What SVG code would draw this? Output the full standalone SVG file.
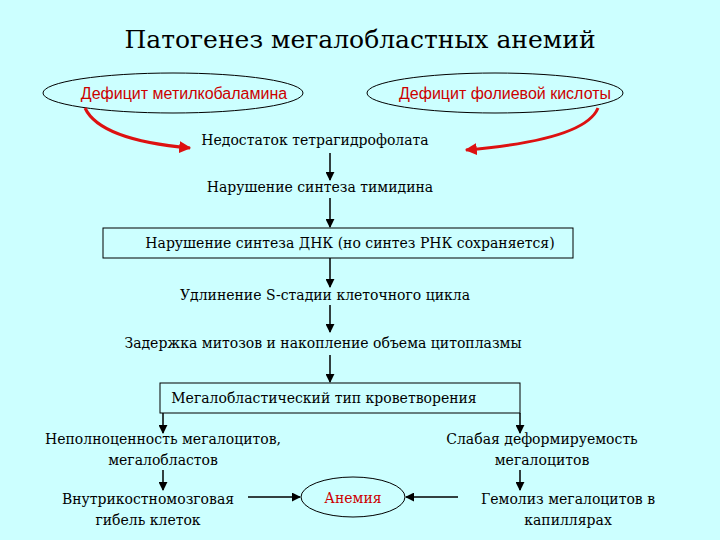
<svg xmlns="http://www.w3.org/2000/svg" width="720" height="540" viewBox="0 0 720 540">
<style>
.t{font-family:'DejaVu Serif','Liberation Serif',serif;font-size:14px;fill:#000;text-anchor:middle}
.r{font-family:'Liberation Sans',Arial,sans-serif;font-size:16px;fill:#cc0000;text-anchor:middle}
.ln{stroke:#000;stroke-width:1.5;fill:none}
.red{stroke:#dd1111;stroke-width:3;fill:none}
.el{fill:none;stroke:#000;stroke-width:1}
</style>
<defs>
<marker id="a" viewBox="0 0 10 10" refX="9" refY="5" markerWidth="6" markerHeight="6" orient="auto"><path d="M0,0L10,5L0,10z" fill="#000"/></marker>
<marker id="ar" viewBox="0 0 10 10" refX="9" refY="5" markerWidth="4" markerHeight="4" orient="auto"><path d="M0,0L10,5L0,10z" fill="#dd1111"/></marker>
</defs>
<rect width="720" height="540" fill="#ccffff"/>
<text x="360" y="48" class="t" style="font-size:25px">Патогенез мегалобластных анемий</text>
<g id="n1"><ellipse cx="173" cy="93" rx="130" ry="20" class="el"/><text x="184" y="99" class="r">Дефицит метилкобаламина</text></g>
<g id="n2"><ellipse cx="495" cy="93" rx="128" ry="20" class="el"/><text x="505" y="99" class="r">Дефицит фолиевой кислоты</text></g>
<g id="n3"><text x="315" y="145" class="t">Недостаток тетрагидрофолата</text></g>
<g id="n4"><text x="320" y="192" class="t">Нарушение синтеза тимидина</text></g>
<g id="n5"><rect x="103" y="228" width="470" height="30" fill="none" stroke="#000"/><text x="350" y="248" class="t">Нарушение синтеза ДНК (но синтез РНК сохраняется)</text></g>
<g id="n6"><text x="325" y="300" class="t">Удлинение S-стадии клеточного цикла</text></g>
<g id="n7"><text x="323" y="348" class="t">Задержка митозов и накопление объема цитоплазмы</text></g>
<g id="n8"><rect x="160" y="383" width="360" height="30" fill="none" stroke="#000"/><text x="324" y="403" class="t">Мегалобластический тип кроветворения</text></g>
<g id="n9"><text x="163" y="444" class="t">Неполноценность мегалоцитов,</text><text x="163" y="465" class="t">мегалобластов</text></g>
<g id="n10"><text x="542" y="444" class="t">Слабая деформируемость</text><text x="542" y="465" class="t">мегалоцитов</text></g>
<g id="n11"><text x="148" y="504" class="t">Внутрикостномозговая</text><text x="148" y="525" class="t">гибель клеток</text></g>
<g id="n12"><ellipse cx="353" cy="497" rx="52" ry="20" class="el"/><text x="353" y="503" class="t" style="fill:#cc0000">Анемия</text></g>
<g id="n13"><text x="568" y="504" class="t">Гемолиз мегалоцитов в</text><text x="568" y="525" class="t">капиллярах</text></g>
<g id="connectors">
<path d="M85,108 Q100,140 190,148" class="red" marker-end="url(#ar)"/>
<path d="M598,108 Q585,140 466,150" class="red" marker-end="url(#ar)"/>
<path d="M330,153V180" class="ln" marker-end="url(#a)"/>
<path d="M330,198V227" class="ln" marker-end="url(#a)"/>
<path d="M330,258V287" class="ln" marker-end="url(#a)"/>
<path d="M330,305V332" class="ln" marker-end="url(#a)"/>
<path d="M330,355V382" class="ln" marker-end="url(#a)"/>
<path d="M163,413V433" class="ln" marker-end="url(#a)"/>
<path d="M520,413V433" class="ln" marker-end="url(#a)"/>
<path d="M163,470V490" class="ln" marker-end="url(#a)"/>
<path d="M520,470V490" class="ln" marker-end="url(#a)"/>
<path d="M248,497H300" class="ln" marker-end="url(#a)"/>
<path d="M458,497H406" class="ln" marker-end="url(#a)"/>
</g>
</svg>
